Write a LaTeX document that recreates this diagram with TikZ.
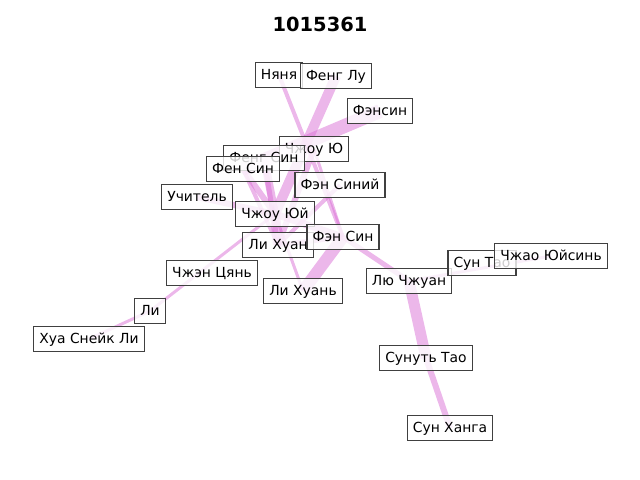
\documentclass[tikz,border=0pt]{standalone}
\usepackage{fontspec}
\setmainfont{DejaVu Sans}
\begin{document}
\begin{tikzpicture}[x=0.72pt,y=-0.72pt,
  lbl/.style={rectangle,draw={rgb,255:red,64;green,64;blue,64},fill=white,fill opacity=0.8,draw opacity=1,text opacity=1,
    line width=0.8pt,inner xsep=4pt,inner ysep=3.3pt,text height=8.4pt,text depth=2.6pt,font=\fontsize{10pt}{12pt}\selectfont},
  edge/.style={draw={rgb,255:red,218;green,112;blue,214},draw opacity=0.5,line width=#1*0.72pt},
  edge/.default=3]
\useasboundingbox (0,0) rectangle (640,480);
\node[font=\fontsize{14pt}{16pt}\selectfont\bfseries] (title) at (320,24) {1015361};
% node positions
\coordinate (nanya) at (279,75);
\coordinate (fenglu) at (336,76);
\coordinate (fensin1) at (380,111);
\coordinate (zhouyu) at (314,149);
\coordinate (fengsin) at (264,158);
\coordinate (fensin2) at (243,169);
\coordinate (fensiniy) at (340,185);
\coordinate (uchitel) at (197,197);
\coordinate (zhouyuy) at (275,214);
\coordinate (lihuan) at (278,245);
\coordinate (fensin3) at (343,237);
\coordinate (zhenqyan) at (212,273);
\coordinate (lihuan2) at (303,291);
\coordinate (liuzhuan) at (409,281);
\coordinate (suntao) at (482,263);
\coordinate (zhaoyuy) at (551,256);
\coordinate (li) at (150,311);
\coordinate (huasnake) at (89,339);
\coordinate (sunuttao) at (426,358);
\coordinate (sunhanga) at (450,428);
% edges
\draw[edge=4] (nanya) -- (fensin3);
\draw[edge=10] (fenglu) -- (zhouyuy);
\draw[edge=14] (fensin1) -- (fensin2);
\draw[edge=3] (zhouyu) -- (fensin3);
\draw[edge=6] (fensin2) -- (zhouyuy);
\draw[edge=8] (fengsin) -- (zhouyuy);
\draw[edge=5] (fengsin) -- (lihuan);
\draw[edge=4] (fensin2) -- (lihuan);
\draw[edge=6] (uchitel) -- (zhouyuy);
\draw[edge=10] (zhouyuy) -- (lihuan);
\draw[edge=7] (zhouyuy) -- (fensin3);
\draw[edge=5] (lihuan) -- (fensin3);
\draw[edge=6] (lihuan) -- (zhouyu);
\draw[edge=4] (lihuan) -- (fensiniy);
\draw[edge=12] (lihuan2) -- (fensin3);
\draw[edge=3] (lihuan2) -- (zhouyuy);
\draw[edge=5] (fensin3) -- (liuzhuan);
\draw[edge=11] (liuzhuan) -- (sunuttao);
\draw[edge=6] (sunuttao) -- (sunhanga);
\draw[edge=3] (liuzhuan) -- (zhaoyuy);
\draw[edge=3] (li) -- (zhouyuy);
\draw[edge=3] (huasnake) -- (li);
% labels
\node[lbl] (n1) at (nanya) {Няня};
\node[lbl] (n2) at (fenglu) {Фенг Лу};
\node[lbl] (n3) at (fensin1) {Фэнсин};
\node[lbl] (n4) at (zhouyu) {Чжоу Ю};
\node[lbl] (n5) at (fengsin) {Фенг Син};
\node[lbl] (n6) at (fensin2) {Фен Син};
\node[lbl] (n7) at (fensiniy) {Фэн Синий};
\node[lbl] (n8) at (uchitel) {Учитель};
\node[lbl] (n9) at (zhouyuy) {Чжоу Юй};
\node[lbl] (n10) at (lihuan) {Ли Хуан};
\node[lbl] (n11) at (fensin3) {Фэн Син};
\node[lbl] (n12) at (zhenqyan) {Чжэн Цянь};
\node[lbl] (n13) at (lihuan2) {Ли Хуань};
\node[lbl] (n14) at (liuzhuan) {Лю Чжуан};
\node[lbl] (n15) at (suntao) {Сун Тао};
\node[lbl] (n16) at (zhaoyuy) {Чжао Юйсинь};
\node[lbl] (n17) at (li) {Ли};
\node[lbl] (n18) at (huasnake) {Хуа Снейк Ли};
\node[lbl] (n19) at (sunuttao) {Сунуть Тао};
\node[lbl] (n20) at (sunhanga) {Сун Ханга};
\end{tikzpicture}
\end{document}
